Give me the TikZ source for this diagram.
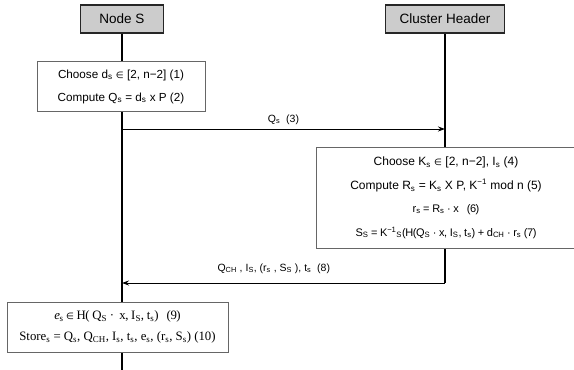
\documentclass[tikz,border=0pt]{standalone}
\usepackage{fontspec}
\setmainfont{Liberation Sans}
\newfontfamily\serfont{Liberation Serif}
\newfontfamily\dvfont{DejaVu Sans}
\usetikzlibrary{arrows.meta}
\newcommand\mysub[1]{\textsubscript{#1}}
\newcommand\mysup[1]{\textsuperscript{#1}}
\newcommand\elem{{\dvfont\small ∈}}
\newcommand\tight{\addfontfeatures{LetterSpace=-4}}
\begin{document}
\begin{tikzpicture}[x=1pt,y=-1pt,
  header/.style={draw=black!85,line width=1.1pt,fill=gray!40,font=\fontsize{13.5}{15}\selectfont,inner sep=0pt},
  stepbox/.style={draw=black!60,line width=0.6pt,fill=white,inner sep=0pt,align=center},
  life/.style={line width=1.8pt,black},
  msg/.style={line width=1pt,-{Stealth[length=7pt,width=5pt]}},
  lbl/.style={font=\fontsize{10.5}{12}\selectfont,inner sep=1pt}]
\useasboundingbox (0,0) rectangle (574,370);
% headers
\node[header,minimum width=83pt,minimum height=28pt] (hS) at (122,19) {Node S};
\node[header,minimum width=119pt,minimum height=28pt] (hC) at (445,19) {Cluster Header};
% lifeline ends
\coordinate (sEnd) at (122,370);
\coordinate (cEnd) at (445,283);
\coordinate (s3) at (122,129);
\coordinate (c3) at (445,129);
\coordinate (s8) at (122,283);
\draw[life] (hS.south) -- (sEnd);
\draw[life] (hC.south) -- (cEnd);
% boxes
\node[stepbox,minimum width=168pt,minimum height=50pt,font=\fontsize{11.7}{13}\selectfont] (b1) at (121,86.5)
  {Choose d\mysub{s} \elem{} [2, n−2] (1)\\[10pt]
   Compute Q\mysub{s} = d\mysub{s} x P (2)};
\node[stepbox,minimum width=260pt,minimum height=101pt,font=\fontsize{12}{13}\selectfont] (b2) at (446,197.5)
  {Choose K\mysub{s} \elem{} [2, n−2], I\mysub{s} (4)\\[11pt]
   Compute R\mysub{s} = K\mysub{s} X P, K\mysup{−1} mod n (5)\\[10pt]
   {\fontsize{11}{13}\selectfont\tight r\mysub{s} = R\mysub{s} · x \ \ (6)}\\[11pt]
   {\fontsize{11}{13}\selectfont\tight S\mysub{S} = K\mysup{−1}\mysub{S}(H(Q\mysub{S} · x, I\mysub{S}, t\mysub{s}) + d\mysub{CH} · r\mysub{s} (7)}};
\node[stepbox,minimum width=221pt,minimum height=50pt,font=\serfont\fontsize{12.8}{14}\selectfont] (b3) at (117.5,327)
  {{\tight\textit{e}\mysub{s} \elem{} H( Q\mysub{S} · \ x, I\mysub{S}, t\mysub{s}) \ \ (9)}\\[7pt]
   Store\mysub{s} = Q\mysub{s}, Q\mysub{CH}, I\mysub{s}, t\mysub{s}, e\mysub{s}, (r\mysub{s}, S\mysub{s}) (10)};
% messages
\draw[msg] (s3) -- (c3) node[lbl,midway,above=3pt] (m3) {Q\mysub{s} \ (3)};
\draw[msg] (cEnd) -- (s8) node[lbl,pos=0.53,above=8pt] (m8) {Q\mysub{CH} , I\mysub{S}, (r\mysub{s} , S\mysub{S} ), t\mysub{s} \ (8)};
\end{tikzpicture}
\end{document}
